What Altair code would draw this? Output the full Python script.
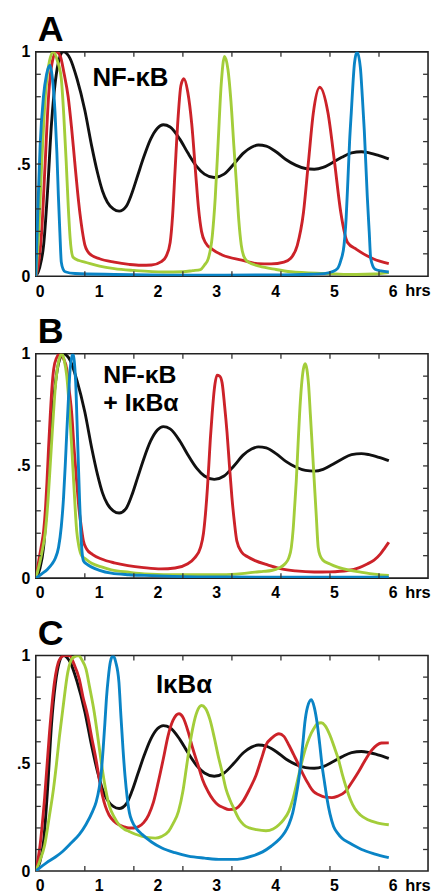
import altair as alt
import pandas as pd

FONT = "Liberation Sans"
SERIES = ["black", "red", "green", "blue"]
COLORS = ["#111111", "#cc2229", "#a3cd3a", "#0a84c6"]

# time in minutes, normalized level (0..1)
black_t = [0, 4, 8, 12, 16, 20, 24, 28, 35, 42, 50, 57, 63, 68, 73, 79, 85, 92, 98, 104, 110, 117, 124, 130,
           137, 147, 155, 164, 172, 182, 192, 202, 212, 220, 227, 235, 245, 255, 265, 275, 284, 293, 302, 312,
           322, 332, 340, 350, 360]
black_v = [0, 0.04, 0.14, 0.38, 0.68, 0.87, 0.97, 1.0, 0.97, 0.88, 0.74, 0.58, 0.46, 0.38, 0.33, 0.30, 0.29, 0.31,
           0.37, 0.45, 0.53, 0.61, 0.66, 0.675, 0.665, 0.61, 0.55, 0.49, 0.455, 0.44, 0.455, 0.50, 0.55, 0.575,
           0.585, 0.58, 0.555, 0.52, 0.495, 0.48, 0.477, 0.485, 0.505, 0.53, 0.55, 0.555, 0.55, 0.538, 0.523]

# Panel A: NF-kB
a_red_t = [0, 3, 6, 9.5, 13, 17, 21, 25, 29, 33, 36.5, 39.7, 42.5, 45, 47.5, 50, 53, 57, 65, 80, 95, 107, 118,
           128, 133, 137, 139.5, 142, 145, 148, 151, 155, 159, 163, 166, 169, 173, 180, 190, 210, 226, 240, 253,
           260, 266.6, 273, 278, 283, 289.6, 298, 304.7, 311, 318, 327, 344, 360]
a_red_v = [0, 0.06, 0.2, 0.5, 0.8, 0.96, 1.0, 0.98, 0.9, 0.8, 0.66, 0.51, 0.38, 0.28, 0.2, 0.14, 0.11, 0.093, 0.078,
           0.063, 0.053, 0.049, 0.05, 0.065, 0.09, 0.15, 0.27, 0.47, 0.7, 0.85, 0.88, 0.82, 0.68, 0.46, 0.3, 0.2,
           0.15, 0.12, 0.095, 0.072, 0.056, 0.055, 0.063, 0.08, 0.137, 0.285, 0.507, 0.727, 0.842, 0.727, 0.507,
           0.285, 0.15, 0.12, 0.078, 0.056]
a_green_t = [0, 3, 6, 10, 14, 18, 22, 26, 28.5, 31, 33, 35, 38, 44, 50, 65, 80, 100, 130, 150, 160, 168, 172, 176,
             180, 183, 186, 189, 192.5, 196, 199, 202, 204.5, 207, 209.5, 212, 216, 228, 245, 260, 294, 327, 345, 360]
a_green_v = [0, 0.2, 0.5, 0.82, 0.96, 1.0, 0.96, 0.88, 0.72, 0.51, 0.32, 0.17, 0.085, 0.07, 0.063, 0.045, 0.034,
             0.026, 0.019, 0.02, 0.025, 0.03, 0.05, 0.08, 0.18, 0.35, 0.6, 0.85, 0.98, 0.92, 0.78, 0.58, 0.42, 0.25,
             0.14, 0.09, 0.065, 0.045, 0.03, 0.02, 0.012, 0.008, 0.01, 0.016]
a_blue_t = [0, 1, 2.5, 4.4, 7.8, 11, 14.5, 17, 19.6, 21.5, 23, 24.5, 26, 28, 30, 40, 80, 150, 250, 280, 294, 302,
            307.6, 311, 314.3, 316.5, 318.3, 320, 321.7, 325, 327.6, 331, 333, 335, 338, 340, 341.6, 346, 352, 360]
a_blue_v = [0, 0.14, 0.35, 0.58, 0.8, 0.9, 0.94, 0.88, 0.73, 0.55, 0.36, 0.2, 0.063, 0.03, 0.02, 0.012, 0.008,
            0.005, 0.006, 0.009, 0.012, 0.02, 0.034, 0.07, 0.137, 0.26, 0.43, 0.6, 0.727, 0.95, 1.0, 0.93, 0.8,
            0.65, 0.36, 0.2, 0.078, 0.031, 0.024, 0.019]

# Panel B: NF-kB + IkBa
b_red_t = [0, 3, 5.5, 8, 10, 11.4, 13, 14.8, 16.5, 18.2, 21, 24.9, 28, 31.6, 34, 36.7, 39, 41.7, 44, 46, 48.5,
           51.8, 58, 67, 80, 94, 110, 127.6, 142, 154.5, 162, 168, 171, 173, 175, 176.5, 178, 179.8, 182, 184.8,
           187.5, 190, 192.5, 195, 197.5, 200, 202.5, 205, 210, 216, 223.6, 237, 250.5, 265, 284, 300, 318, 330,
           338, 345, 351.5, 356, 360]
b_red_v = [0, 0.078, 0.14, 0.21, 0.32, 0.43, 0.58, 0.73, 0.85, 0.93, 0.98, 1.0, 0.98, 0.93, 0.84, 0.73, 0.58, 0.43,
           0.31, 0.24, 0.166, 0.13, 0.105, 0.085, 0.068, 0.056, 0.047, 0.041, 0.045, 0.063, 0.09, 0.137, 0.2,
           0.285, 0.4, 0.507, 0.62, 0.73, 0.84, 0.904, 0.9, 0.87, 0.77, 0.65, 0.5, 0.36, 0.25, 0.166, 0.115, 0.095,
           0.078, 0.058, 0.041, 0.032, 0.027, 0.028, 0.034, 0.047, 0.063, 0.08, 0.108, 0.135, 0.16]
b_green_t = [0, 3, 6, 9.8, 12.5, 14.8, 17.5, 19.9, 23, 26.6, 29, 31.6, 34, 36.7, 39, 41.7, 44, 46.8, 51, 57, 67,
             77, 95, 110.8, 150, 190, 210, 223.6, 232, 240.4, 248, 254, 258, 260.6, 262.5, 264, 265.6, 267.5,
             269, 271, 272.8, 274.7, 276.5, 278.2, 280, 282, 284, 286, 288, 290, 292.6, 300, 307.8, 320, 331.3,
             345, 360]
b_green_v = [0, 0.049, 0.11, 0.21, 0.35, 0.51, 0.7, 0.85, 0.96, 1.0, 0.97, 0.9, 0.77, 0.58, 0.4, 0.21, 0.14, 0.1,
             0.085, 0.066, 0.05, 0.037, 0.026, 0.019, 0.015, 0.015, 0.02, 0.027, 0.03, 0.034, 0.045, 0.063, 0.09,
             0.137, 0.22, 0.32, 0.43, 0.6, 0.73, 0.86, 0.93, 0.956, 0.93, 0.86, 0.73, 0.58, 0.43, 0.28, 0.137, 0.1,
             0.081, 0.063, 0.049, 0.035, 0.027, 0.018, 0.012]
b_blue_t = [0, 6.4, 12, 16.5, 20, 23.2, 26, 28.3, 30, 31.6, 33.3, 35, 37.7, 40.7, 42, 43.4, 44.7, 46, 47.3, 48.5,
            52, 57, 65, 77, 95, 110.8, 140, 200, 280, 360]
b_blue_v = [0, 0.02, 0.04, 0.063, 0.09, 0.137, 0.23, 0.36, 0.5, 0.65, 0.8, 0.93, 1.0, 0.87, 0.7, 0.51, 0.34, 0.196,
            0.11, 0.078, 0.062, 0.049, 0.035, 0.022, 0.015, 0.012, 0.008, 0.005, 0.004, 0.004]

# Panel C: IkBa
c_red_t = [0, 4, 9, 14, 19, 24, 29, 34.3, 39, 44.4, 48, 52.9, 57, 61.3, 65, 68, 71, 74.7, 80, 84.8, 90, 95, 100,
           105, 110, 115, 120, 125, 130, 135, 140, 146, 150.5, 155.5, 160, 165.6, 170, 175.8, 181, 185.9, 191,
           197, 204, 211, 218, 224.6, 230, 234.7, 241.4, 248, 253, 258.2, 263, 268.4, 273, 278.5, 283, 288.6, 295,
           302, 308, 315.5, 322, 329, 336, 342.4, 348, 352.5, 360]
c_red_v = [0, 0.107, 0.34, 0.645, 0.875, 0.98, 1.0, 1.0, 0.96, 0.89, 0.81, 0.72, 0.62, 0.52, 0.42, 0.35, 0.3, 0.26,
           0.23, 0.215, 0.205, 0.2, 0.2, 0.207, 0.225, 0.26, 0.32, 0.415, 0.52, 0.63, 0.7, 0.73, 0.71, 0.645, 0.57,
           0.49, 0.425, 0.368, 0.33, 0.307, 0.295, 0.285, 0.29, 0.322, 0.38, 0.445, 0.52, 0.584, 0.62, 0.637, 0.625,
           0.584, 0.54, 0.49, 0.445, 0.4, 0.37, 0.354, 0.343, 0.341, 0.348, 0.368, 0.41, 0.46, 0.515, 0.56, 0.585,
           0.594, 0.595]
c_green_t = [0, 4, 9, 14, 18, 20.9, 24, 27.6, 32.6, 37.7, 43.8, 47, 51.2, 55, 59.6, 63, 66.3, 70, 74.7, 80, 84.8,
             90, 95, 101, 108.4, 115, 121.9, 128, 135.4, 140, 145.5, 150, 153.9, 157, 160.6, 164.5, 169, 173, 177.4,
             182, 185.9, 190, 194, 198, 202, 207.7, 212, 217.8, 225, 234.7, 242, 248, 253, 258, 262, 266.6, 271,
             275, 279, 283.4, 287, 291, 295, 300, 304, 308.5, 312.5, 316.9, 321, 325.3, 331, 338.7, 348, 360]
c_green_v = [0, 0.046, 0.12, 0.26, 0.38, 0.49, 0.62, 0.753, 0.922, 0.99, 1.0, 0.98, 0.937, 0.85, 0.737, 0.63, 0.52,
             0.41, 0.307, 0.25, 0.215, 0.195, 0.184, 0.172, 0.161, 0.155, 0.153, 0.16, 0.184, 0.22, 0.277, 0.37,
             0.49, 0.585, 0.675, 0.74, 0.768, 0.755, 0.706, 0.62, 0.537, 0.46, 0.38, 0.33, 0.29, 0.238, 0.215, 0.2,
             0.192, 0.187, 0.195, 0.215, 0.24, 0.277, 0.33, 0.415, 0.5, 0.568, 0.62, 0.66, 0.683, 0.688, 0.675,
             0.63, 0.58, 0.52, 0.45, 0.383, 0.33, 0.29, 0.26, 0.238, 0.224, 0.215]
c_blue_t = [0, 10.8, 20, 27.6, 36, 44.4, 51, 57.9, 61.5, 64.6, 66.8, 68.7, 70.5, 72, 74, 76, 78.8, 81.5, 84.8, 86.8,
            88.9, 91, 93.3, 95.5, 98.3, 103, 108.4, 118, 128.6, 142, 155.5, 172, 189.2, 200, 211, 221, 231.3, 240,
            248, 254, 258, 262, 265, 267.7, 270, 272.3, 274.4, 277, 281, 284, 286.8, 289.5, 291.9, 294.5, 296.9,
            300, 303.7, 308, 312, 320, 332.3, 345, 360]
c_blue_v = [0, 0.038, 0.065, 0.092, 0.13, 0.17, 0.215, 0.277, 0.32, 0.384, 0.46, 0.568, 0.69, 0.799, 0.9, 0.97,
            1.0, 0.97, 0.875, 0.72, 0.568, 0.44, 0.338, 0.27, 0.23, 0.195, 0.17, 0.135, 0.107, 0.085, 0.069, 0.06,
            0.054, 0.054, 0.058, 0.07, 0.089, 0.115, 0.146, 0.18, 0.215, 0.27, 0.338, 0.41, 0.491, 0.59, 0.69, 0.76,
            0.795, 0.76, 0.69, 0.59, 0.491, 0.41, 0.338, 0.265, 0.207, 0.175, 0.153, 0.13, 0.1, 0.08, 0.062]

# axis ticks / labels
hour_label_min = [0, 60, 120, 180, 240, 300, 360]
x_minor_min = [50, 100, 150, 200, 250, 300, 350]
y_minor = [0.1, 0.2, 0.3, 0.4, 0.5, 0.6, 0.7, 0.8, 0.9]
y_labels = [0, 0.5, 1]
unit_label = "hrs"

XS = alt.Scale(domain=[0, 400], nice=False, zero=False)
YS = alt.Scale(domain=[0, 1], nice=False)
TICK_COLOR = "#333333"

X_AXIS = alt.Axis(
    values=hour_label_min, title=None, grid=False, domain=False, ticks=False, tickSize=0,
    labelExpr="'' + (datum.value / 60)", labelOffset=4,
    labelFont=FONT, labelFontSize=16, labelFontWeight="bold", labelColor="black",
    labelPadding=7, labelFlush=False, labelOverlap=False)
Y_AXIS = alt.Axis(
    values=y_labels, title=None, grid=False, domain=False, ticks=False, tickSize=0,
    labelExpr="datum.value == 0.5 ? '.5' : '' + datum.value",
    labelFont=FONT, labelFontSize=16, labelFontWeight="bold", labelColor="black",
    labelPadding=6, labelFlush=False, labelBaseline="middle")


def panel_df(series_list):
    rows = []
    for name, (ts, vs) in zip(SERIES, series_list):
        for t, v in zip(ts, vs):
            rows.append({"series": name, "t": t, "v": v})
    return pd.DataFrame(rows)


def text_layer(text, px, py, size):
    return alt.Chart(pd.DataFrame({"label": [text]})).mark_text(
        align="left", baseline="alphabetic", font=FONT, fontSize=size, fontWeight="bold", color="black"
    ).encode(x=alt.value(px), y=alt.value(py), text="label:N")


def panel(letter, labels, size, series_list, w, h):
    df = panel_df(series_list)
    lines = alt.Chart(df).mark_line(strokeWidth=2.9, interpolate="monotone", clip=True).encode(
        x=alt.X("t:Q", scale=XS, axis=X_AXIS),
        y=alt.Y("v:Q", scale=YS, axis=Y_AXIS),
        color=alt.Color("series:N", scale=alt.Scale(domain=SERIES, range=COLORS), legend=None),
    )
    xt = pd.DataFrame({"t": x_minor_min})
    yt = pd.DataFrame({"v": y_minor})
    rule = dict(color=TICK_COLOR, strokeWidth=1.3)
    top = alt.Chart(xt).mark_rule(**rule).encode(
        x=alt.X("t:Q", scale=XS, axis=X_AXIS), y=alt.value(0), y2=alt.value(5))
    bot = alt.Chart(xt).mark_rule(**rule).encode(
        x=alt.X("t:Q", scale=XS, axis=X_AXIS), y=alt.value(h), y2=alt.value(h - 5))
    left = alt.Chart(yt).mark_rule(**rule).encode(
        y=alt.Y("v:Q", scale=YS, axis=Y_AXIS), x=alt.value(0), x2=alt.value(5))
    right = alt.Chart(yt).mark_rule(**rule).encode(
        y=alt.Y("v:Q", scale=YS, axis=Y_AXIS), x=alt.value(w), x2=alt.value(w - 5))
    layers = [lines, top, bot, left, right]
    for text, px, py in labels:
        layers.append(text_layer(text, px, py, size))
    layers.append(text_layer(unit_label, w - 23, h + 20, 16.5))
    layers.append(text_layer(letter, 2, -11, 36))
    return alt.layer(*layers).properties(width=w, height=h)


pA = panel("A", [("NF-κB", 57, 34)], 26,
           [(black_t, black_v), (a_red_t, a_red_v), (a_green_t, a_green_v), (a_blue_t, a_blue_v)], 395, 226)
pB = panel("B", [("NF-κB", 68, 30), ("+ IκBα", 68, 58)], 25,
           [(black_t, black_v), (b_red_t, b_red_v), (b_green_t, b_green_v), (b_blue_t, b_blue_v)], 395, 226)
pC = panel("C", [("IκBα", 121, 38)], 26,
           [(black_t, black_v), (c_red_t, c_red_v), (c_green_t, c_green_v), (c_blue_t, c_blue_v)], 395, 217)

chart = alt.vconcat(pA, pB, pC, spacing=12).properties(
    padding={"left": 7, "top": 0, "right": 0, "bottom": 0}
).configure_view(stroke="#222222", strokeWidth=1.6)

chart.save("out.html", embed_options={"renderer": "svg", "actions": False})
